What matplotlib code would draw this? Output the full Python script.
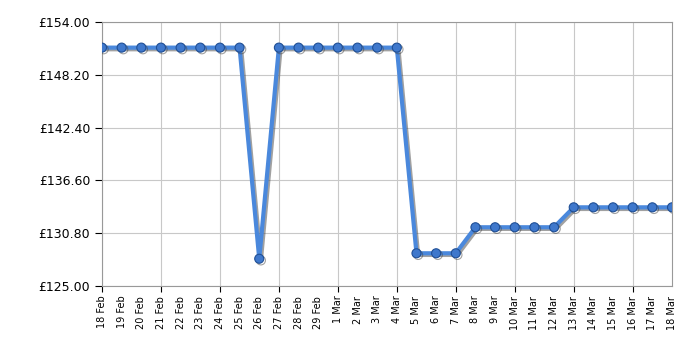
import matplotlib
matplotlib.use('Agg')
import matplotlib.pyplot as plt
import matplotlib.patheffects as pe
from matplotlib.ticker import FixedLocator, FuncFormatter

dates = ['18 Feb', '19 Feb', '20 Feb', '21 Feb', '22 Feb', '23 Feb', '24 Feb', '25 Feb',
         '26 Feb', '27 Feb', '28 Feb', '29 Feb', '1 Mar', '2 Mar', '3 Mar', '4 Mar',
         '5 Mar', '6 Mar', '7 Mar', '8 Mar', '9 Mar', '10 Mar', '11 Mar', '12 Mar',
         '13 Mar', '14 Mar', '15 Mar', '16 Mar', '17 Mar', '18 Mar']
prices = [151.19, 151.19, 151.19, 151.19, 151.19, 151.19, 151.19, 151.19,
          127.99, 151.19, 151.19, 151.19, 151.19, 151.19, 151.19, 151.19,
          128.59, 128.59, 128.59, 131.45, 131.45, 131.45, 131.45, 131.45,
          133.64, 133.64, 133.64, 133.64, 133.64, 133.64]
y_ticks = [125.00, 130.80, 136.60, 142.40, 148.20, 154.00]

fig = plt.figure(figsize=(7, 3.5), dpi=100)
ax = fig.add_axes([0.1457, 0.183, 0.8143, 0.754])

x = list(range(len(dates)))
shadow = [pe.SimpleLineShadow(offset=(1.2, -1.2), shadow_color='#444444', alpha=0.5), pe.Normal()]
ax.plot(x, prices, color='#4a88dc', lw=3, zorder=3, path_effects=shadow)
ax.plot(x, prices, ls='none', marker='o', ms=6.5, mfc='#3f78cc', mec='#1f4f96', mew=0.8,
        zorder=4, path_effects=shadow)

ax.set_xlim(0, len(dates) - 1)
ax.set_ylim(y_ticks[0], y_ticks[-1])
ax.yaxis.set_major_locator(FixedLocator(y_ticks))
ax.yaxis.set_major_formatter(FuncFormatter(lambda v, p: '£%.2f' % v))

# labels on every day, tick marks and grid lines only every third day
major = [i for i in x if i % 3 == 0]
minor = [i for i in x if i % 3 != 0]
ax.xaxis.set_major_locator(FixedLocator(major))
ax.xaxis.set_minor_locator(FixedLocator(minor))
ax.xaxis.set_major_formatter(FuncFormatter(lambda v, p: dates[int(round(v))]))
ax.xaxis.set_minor_formatter(FuncFormatter(lambda v, p: dates[int(round(v))]))
ax.tick_params(axis='x', which='both', labelrotation=90, labelsize=7, pad=3)
ax.tick_params(axis='x', which='major', length=4, color='black')
ax.tick_params(axis='x', which='minor', length=0, pad=7)
ax.tick_params(axis='y', labelsize=9, length=5, color='black')

ax.grid(True, which='major', color='#c8c8c8', lw=0.8)
ax.set_axisbelow(True)
for s in ax.spines.values():
    s.set_color('#999999')

plt.savefig('out.png', dpi=100)
